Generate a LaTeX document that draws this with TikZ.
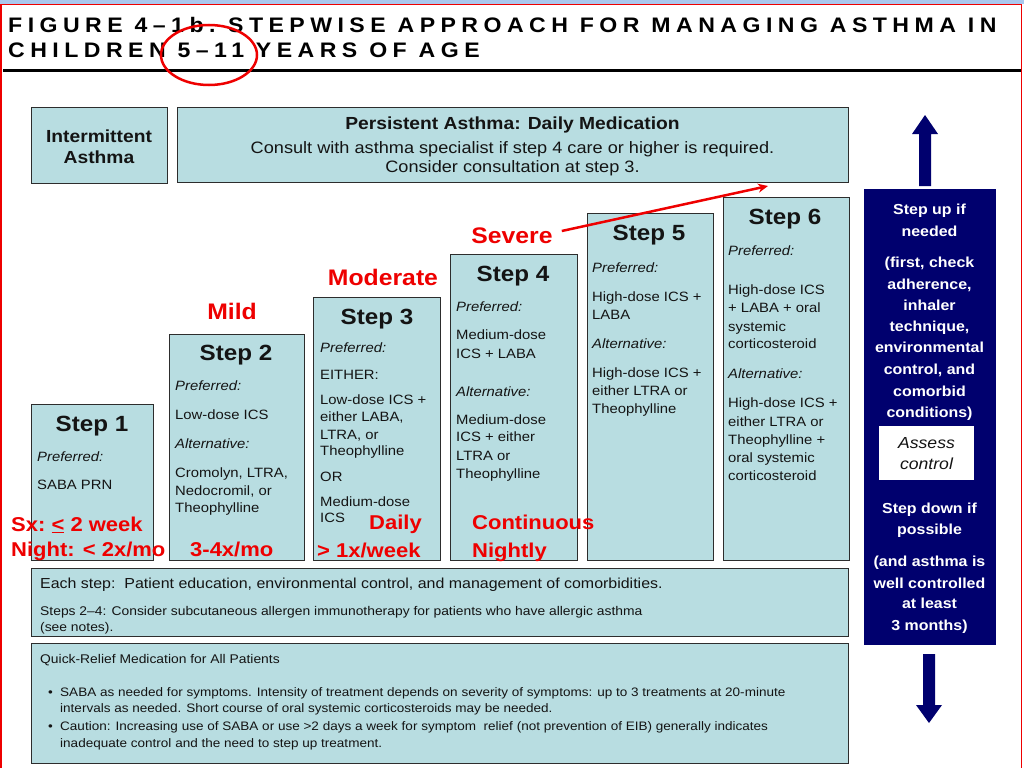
\documentclass[tikz,border=0pt]{standalone}
\usepackage{fontspec}
\setmainfont{Liberation Sans}[FakeStretch=1.1]
\usetikzlibrary{shapes.geometric,arrows.meta}
\definecolor{boxfill}{RGB}{184,221,225}
\definecolor{navyc}{RGB}{0,0,110}
\definecolor{redc}{RGB}{238,0,0}
\definecolor{edge}{RGB}{45,45,45}
\definecolor{bandblue}{RGB}{170,200,238}
\definecolor{txt}{RGB}{20,20,20}
\tikzset{
 box/.style={draw=edge, line width=1.2pt, fill=boxfill, inner sep=0, anchor=north west},
 tx/.style={inner sep=0, text depth=0pt, text=txt},
 body/.style={tx, anchor=west, font=\fontsize{13.5}{16}\selectfont, text height=9.7pt},
 bodyi/.style={tx, anchor=west, font=\fontsize{13.5}{16}\selectfont\itshape, text height=9.7pt},
 stitle/.style={tx, anchor=center, font=\bfseries\fontsize{22}{26}\selectfont, text height=15.8pt},
 head/.style={tx, anchor=center, font=\bfseries\fontsize{17.5}{20}\selectfont, text height=12.5pt},
 sub/.style={tx, anchor=center, font=\fontsize{16.5}{19}\selectfont, text height=11.8pt},
 navyt/.style={inner sep=0, text depth=0pt, text=white, anchor=center, font=\bfseries\fontsize{14.5}{17}\selectfont, text height=10.4pt},
 lowt/.style={tx, anchor=west, font=\fontsize{14.5}{17}\selectfont, text height=10.4pt},
 smallt/.style={tx, anchor=west, font=\fontsize{12.6}{15}\selectfont, text height=9pt},
 bullt/.style={tx, anchor=west, font=\fontsize{12.3}{15}\selectfont, text height=8.8pt},
 sev/.style={inner sep=0, text depth=0pt, text=redc, anchor=center, font=\bfseries\fontsize{22.5}{26}\selectfont, text height=16.1pt},
 freq/.style={inner sep=0, text=redc, anchor=base west, font=\bfseries\fontsize{20}{24}\selectfont},
 titlet/.style={inner sep=0, text=black, anchor=base west, font=\bfseries\fontsize{21}{24}\selectfont\addfontfeatures{LetterSpace=26}},
}
\begin{document}
\begin{tikzpicture}[x=1pt,y=-1pt]
\useasboundingbox (0,0) rectangle (1024,768);
\fill[white] (0,0) rectangle (1024,768);
\fill[bandblue] (0,0) rectangle (1024,4);
\draw[redc, line width=1.5pt] (1,768) -- (1,4.5) -- (1021.5,4.5) -- (1021.5,768);

% title
\node[titlet] (t1) at (8,33) {FIGURE 4–1b.\hspace{0.6em}STEPWISE APPROACH FOR MANAGING ASTHMA IN};
\node[titlet] (t2) at (8,57) {CHILDREN 5–11 YEARS OF AGE};
\draw[line width=3.5pt] (3,70.7) -- (1021,70.7);
\node[draw=redc, line width=2.5pt, ellipse, minimum width=96pt, minimum height=60pt, inner sep=0] (ell) at (209,55) {};

% top boxes
\node[box, minimum width=136pt, minimum height=76pt] (inter) at (31,107) {};
\node[head] (inter1) at (99,136) {Intermittent};
\node[head] (inter2) at (99,157) {Asthma};
\node[box, minimum width=671pt, minimum height=75pt] (pers) at (177,107) {};
\node[head] (pers1) at (512.5,123) {Persistent Asthma: Daily Medication};
\node[sub] (pers2) at (512.5,148) {Consult with asthma specialist if step 4 care or higher is required.};
\node[sub] (pers3) at (512.5,167) {Consider consultation at step 3.};

% step boxes
\node[box, minimum width=122pt, minimum height=156pt] (b1) at (31,404) {};
\node[box, minimum width=135pt, minimum height=226pt] (b2) at (169,334) {};
\node[box, minimum width=127pt, minimum height=263pt] (b3) at (313,297) {};
\node[box, minimum width=127pt, minimum height=306pt] (b4) at (450,254) {};
\node[box, minimum width=126pt, minimum height=347pt] (b5) at (587,213) {};
\node[box, minimum width=126pt, minimum height=363pt] (b6) at (723,197) {};

% step 1
\node[stitle] (s1t) at (92,424) {Step 1};
\node[bodyi] (s1a) at (37,457) {Preferred:};
\node[body] (s1b) at (37,485) {SABA PRN};
% step 2
\node[stitle] (s2t) at (236,353) {Step 2};
\node[bodyi] (s2a) at (175,386) {Preferred:};
\node[body] (s2b) at (175,415) {Low-dose ICS};
\node[bodyi] (s2c) at (175,444) {Alternative:};
\node[body] (s2d) at (175,473) {Cromolyn, LTRA,};
\node[body] (s2e) at (175,491) {Nedocromil, or};
\node[body] (s2f) at (175,508) {Theophylline};
% step 3
\node[stitle] (s3t) at (377,317) {Step 3};
\node[bodyi] (s3a) at (320,348) {Preferred:};
\node[body] (s3b) at (320,375) {EITHER:};
\node[body] (s3c) at (320,400) {Low-dose ICS +};
\node[body] (s3d) at (320,417) {either LABA,};
\node[body] (s3e) at (320,435) {LTRA, or};
\node[body] (s3f) at (320,451) {Theophylline};
\node[body] (s3g) at (320,477) {OR};
\node[body] (s3h) at (320,502) {Medium-dose};
\node[body] (s3i) at (320,518) {ICS};
% step 4
\node[stitle] (s4t) at (513,274) {Step 4};
\node[bodyi] (s4a) at (456,307) {Preferred:};
\node[body] (s4b) at (456,335) {Medium-dose};
\node[body] (s4c) at (456,354) {ICS + LABA};
\node[bodyi] (s4d) at (456,392) {Alternative:};
\node[body] (s4e) at (456,420) {Medium-dose};
\node[body] (s4f) at (456,437) {ICS + either};
\node[body] (s4g) at (456,456) {LTRA or};
\node[body] (s4h) at (456,474) {Theophylline};
% step 5
\node[stitle] (s5t) at (649,233) {Step 5};
\node[bodyi] (s5a) at (592,268) {Preferred:};
\node[body] (s5b) at (592,297) {High-dose ICS +};
\node[body] (s5c) at (592,315) {LABA};
\node[bodyi] (s5d) at (592,344) {Alternative:};
\node[body] (s5e) at (592,373) {High-dose ICS +};
\node[body] (s5f) at (592,391) {either LTRA or};
\node[body] (s5g) at (592,409) {Theophylline};
% step 6
\node[stitle] (s6t) at (785,217) {Step 6};
\node[bodyi] (s6a) at (728,251) {Preferred:};
\node[body] (s6b) at (728,290) {High-dose ICS};
\node[body] (s6c) at (728,308) {+ LABA + oral};
\node[body] (s6d) at (728,327) {systemic};
\node[body] (s6e) at (728,344) {corticosteroid};
\node[bodyi] (s6f) at (728,374) {Alternative:};
\node[body] (s6g) at (728,403) {High-dose ICS +};
\node[body] (s6h) at (728,422) {either LTRA or};
\node[body] (s6i) at (728,440) {Theophylline +};
\node[body] (s6j) at (728,458) {oral systemic};
\node[body] (s6k) at (728,476) {corticosteroid};

% lower boxes
\node[box, minimum width=817pt, minimum height=68pt] (low1) at (31,568) {};
\node[lowt] (l1a) at (40,583) {Each step:\ \ Patient education, environmental control, and management of comorbidities.};
\node[smallt] (l1b) at (40,611) {Steps 2–4: Consider subcutaneous allergen immunotherapy for patients who have allergic asthma};
\node[smallt] (l1c) at (40,627) {(see notes).};
\node[box, minimum width=817pt, minimum height=120pt] (low2) at (31,643) {};
\node[smallt] (l2a) at (40,659) {Quick-Relief Medication for All Patients};
\node[bullt] (l2b1) at (48,692) {•};
\node[bullt] (l2b) at (60,692) {SABA as needed for symptoms. Intensity of treatment depends on severity of symptoms: up to 3 treatments at 20-minute};
\node[bullt] (l2c) at (60,708) {intervals as needed. Short course of oral systemic corticosteroids may be needed.};
\node[bullt] (l2d1) at (48,726) {•};
\node[bullt] (l2d) at (60,726) {Caution: Increasing use of SABA or use >2 days a week for symptom\ \ relief (not prevention of EIB) generally indicates};
\node[bullt] (l2e) at (60,743) {inadequate control and the need to step up treatment.};

% navy panel
\node[fill=navyc, draw=navyc, inner sep=0, anchor=north west, minimum width=131pt, minimum height=455pt] (ctrl) at (864,189) {};
\node[navyt] (n1) at (929.5,209) {Step up if};
\node[navyt] (n2) at (929.5,231) {needed};
\node[navyt] (n3) at (929.5,262) {(first, check};
\node[navyt] (n4) at (929.5,284) {adherence,};
\node[navyt] (n5) at (929.5,305) {inhaler};
\node[navyt] (n6) at (929.5,326) {technique,};
\node[navyt] (n7) at (929.5,347) {environmental};
\node[navyt] (n8) at (929.5,369) {control, and};
\node[navyt] (n9) at (929.5,391) {comorbid};
\node[navyt] (n10) at (929.5,412) {conditions)};
\node[fill=white, inner sep=0, anchor=north west, minimum width=95pt, minimum height=54pt] (assess) at (879,426) {};
\node[tx, anchor=center, font=\fontsize{16}{19}\selectfont\itshape, text height=11.5pt] (as1) at (926.5,443) {Assess};
\node[tx, anchor=center, font=\fontsize{16}{19}\selectfont\itshape, text height=11.5pt] (as2) at (926.5,464) {control};
\node[navyt] (n11) at (929.5,508) {Step down if};
\node[navyt] (n12) at (929.5,529) {possible};
\node[navyt] (n13) at (929.5,561) {(and asthma is};
\node[navyt] (n14) at (929.5,583) {well controlled};
\node[navyt] (n15) at (929.5,603) {at least};
\node[navyt] (n16) at (929.5,625) {3 months)};

% block arrows
\fill[navyc] (919,186) -- (919,134) -- (912,134) -- (925,115) -- (938,134) -- (931,134) -- (931,186) -- cycle;
\fill[navyc] (923,654) -- (923,705) -- (916,705) -- (929,723) -- (942,705) -- (935,705) -- (935,654) -- cycle;

% red annotations
\node[sev] (mild) at (232,311) {Mild};
\node[sev] (moderate) at (383,277) {Moderate};
\node[sev] (severe) at (512,235) {Severe};
\coordinate (sevtip) at (768,186);
\draw[redc, line width=2.5pt, -{Stealth[length=10pt,width=9pt]}] ([xshift=9pt,yshift=4pt]severe.east) -- (sevtip);
\node[freq] (f1) at (11,531) {Sx:\ \underline{<} 2 week};
\node[freq] (f2) at (11,556) {Night: < 2x/mo};
\node[freq] (f3) at (190,556) {3-4x/mo};
\node[freq] (f4) at (369,529) {Daily};
\node[freq] (f5) at (317,557) {> 1x/week};
\node[freq] (f6) at (472,529) {Continuous};
\node[freq] (f7) at (472,557) {Nightly};
\end{tikzpicture}
\end{document}
